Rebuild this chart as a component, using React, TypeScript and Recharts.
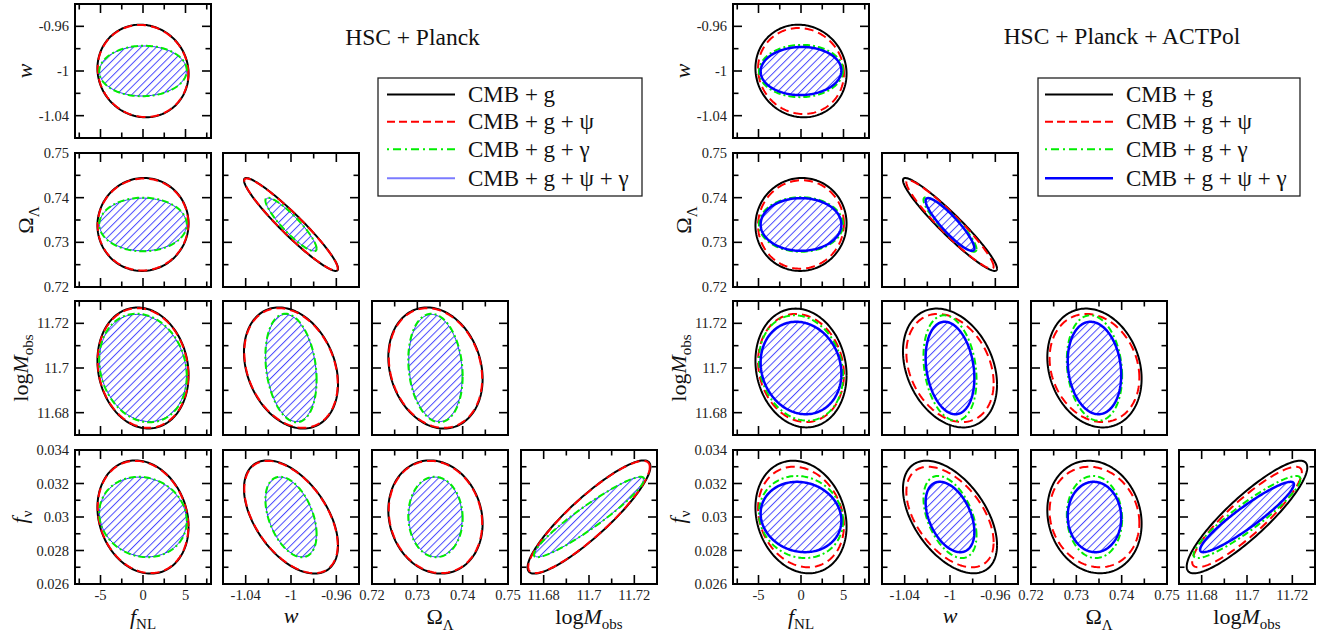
import React from 'react';
import { ScatterChart, Scatter, XAxis, YAxis, ReferenceArea } from 'recharts';

const FONT = '"Liberation Serif", "Times New Roman", serif';

// Parameters: [f_NL, w, Omega_Lambda, log M_obs, f_nu]
const FIDUCIAL = [0, -1, 0.734, 11.7, 0.03];
const AXIS_MIN = [-8, -1.06, 0.72, 11.67, 0.026];
const AXIS_MAX = [8, -0.94, 0.75, 11.73, 0.034];
const MAJOR_TICKS = [
  [-5, 0, 5],
  [-1.04, -1, -0.96],
  [0.72, 0.73, 0.74, 0.75],
  [11.68, 11.7, 11.72],
  [0.026, 0.028, 0.03, 0.032, 0.034],
];
const MINOR_TICKS = [
  [-7.5, -2.5, 2.5, 7.5],
  [-1.02, -0.98],
  [0.725, 0.735, 0.745],
  [11.69, 11.71],
  [0.027, 0.029, 0.031, 0.033],
];

// parameter pairs, order used by the correlation arrays
const PAIRS = [[0, 1], [0, 2], [1, 2], [0, 3], [1, 3], [2, 3], [0, 4], [1, 4], [2, 4], [3, 4]];

// HSC + Planck : marginal extents per parameter
const SIG_P_G = [5.36, 0.0415, 0.0104, 0.0271, 0.00338];
const SIG_P_G_PSI = [5.33, 0.0412, 0.0103, 0.0268, 0.00335];
const SIG_P_G_GAM = [5.15, 0.0226, 0.006, 0.0243, 0.0024];
const SIG_P_ALL = [5.12, 0.0224, 0.0059, 0.024, 0.00238];
// HSC + Planck : correlation per pair
const RHO_P_G = [-0.06, 0.02, -0.95, -0.12, -0.26, -0.18, -0.17, -0.5, -0.12, 0.89];
const RHO_P_G_PSI = [-0.06, 0.02, -0.95, -0.12, -0.26, -0.18, -0.17, -0.5, -0.12, 0.89];
const RHO_P_G_GAM = [0.02, 0.0, -0.9, -0.15, -0.22, -0.15, -0.1, -0.43, -0.03, 0.94];
const RHO_P_ALL = [0.02, 0.0, -0.9, -0.15, -0.22, -0.15, -0.1, -0.43, -0.03, 0.94];

// HSC + Planck + ACTPol
const SIG_A_G = [5.36, 0.0415, 0.0104, 0.0266, 0.00336];
const SIG_A_G_PSI = [5.05, 0.0385, 0.0099, 0.0242, 0.003];
const SIG_A_G_GAM = [4.95, 0.0234, 0.0061, 0.0236, 0.00245];
const SIG_A_ALL = [4.75, 0.0215, 0.0059, 0.0207, 0.0021];
const RHO_A_G = [-0.06, 0.02, -0.95, -0.12, -0.28, -0.18, -0.17, -0.5, -0.12, 0.88];
const RHO_A_G_PSI = [-0.06, 0.02, -0.95, -0.12, -0.28, -0.18, -0.17, -0.5, -0.12, 0.89];
const RHO_A_G_GAM = [0.02, 0.0, -0.9, -0.15, -0.22, -0.15, -0.1, -0.45, -0.05, 0.92];
const RHO_A_ALL = [0.02, 0.0, -0.9, -0.12, -0.22, -0.15, -0.1, -0.42, -0.03, 0.93];

const LEGEND_LABELS = ['CMB + g', 'CMB + g + \u03C8', 'CMB + g + \u03B3', 'CMB + g + \u03C8 + \u03B3'];
const TITLES = ['HSC + Planck', 'HSC + Planck + ACTPol'];

// layout
const COLS = [[75, 223, 372, 521], [733, 882, 1031, 1179]];
const ROWS = [4, 153, 301, 450];
const PW = 136;
const PH = 134;
const YTITLE_OFF = [0, 43, 42, 47, 48];
const XTITLE_OFF = [40, 39, 40, 40, 40];

const STY_G = { stroke: '#000000', width: 2, dash: undefined as string | undefined };
const STY_PSI = { stroke: '#ff0000', width: 2, dash: '9 5' };
const STY_GAM = { stroke: '#00ee00', width: 2, dash: '7 3 2 3' };
const STY_ALL_P = { stroke: '#2a2aff', width: 1, dash: undefined as string | undefined };
const STY_ALL_A = { stroke: '#0000ff', width: 2.5, dash: undefined as string | undefined };

const TRIANGLES = [
  {
    series: [
      { sig: SIG_P_G, rho: RHO_P_G, sty: STY_G },
      { sig: SIG_P_G_PSI, rho: RHO_P_G_PSI, sty: STY_PSI },
      { sig: SIG_P_ALL, rho: RHO_P_ALL, sty: STY_ALL_P },
      { sig: SIG_P_G_GAM, rho: RHO_P_G_GAM, sty: STY_GAM },
    ],
    hatch: { sig: SIG_P_ALL, rho: RHO_P_ALL },
    legendColor4: '#7b7bff',
    legendWidth4: 2,
  },
  {
    series: [
      { sig: SIG_A_G, rho: RHO_A_G, sty: STY_G },
      { sig: SIG_A_G_PSI, rho: RHO_A_G_PSI, sty: STY_PSI },
      { sig: SIG_A_G_GAM, rho: RHO_A_G_GAM, sty: STY_GAM },
      { sig: SIG_A_ALL, rho: RHO_A_ALL, sty: STY_ALL_A },
    ],
    hatch: { sig: SIG_A_ALL, rho: RHO_A_ALL },
    legendColor4: '#0000ff',
    legendWidth4: 2.5,
  },
];

const N_PTS = 160;

function ellipsePoints(i: number, j: number, sig: number[], rho: number) {
  const pts: { x: number; y: number }[] = [];
  const s = Math.sqrt(1 - rho * rho);
  for (let k = 0; k <= N_PTS; k++) {
    const t = (2 * Math.PI * k) / N_PTS;
    pts.push({
      x: FIDUCIAL[i] + sig[i] * Math.cos(t),
      y: FIDUCIAL[j] + sig[j] * (rho * Math.cos(t) + s * Math.sin(t)),
    });
  }
  return pts;
}

function fmt(v: number) {
  return String(parseFloat(v.toPrecision(6)));
}

const EmptyShape = () => <g />;

function XTick(props: any) {
  const { x, y, payload, param, show } = props;
  const v = payload.value;
  const major = MAJOR_TICKS[param].includes(v);
  const len = major ? 9 : 5.5;
  return (
    <g>
      <line x1={x} y1={y} x2={x} y2={y - len} stroke="#000" strokeWidth={1.6} />
      <line x1={x} y1={y - PH} x2={x} y2={y - PH + len} stroke="#000" strokeWidth={1.6} />
      {show && major ? (
        <text x={x} y={y + 16} textAnchor="middle" fontFamily={FONT} fontSize={14.5} fill="#222">
          {fmt(v)}
        </text>
      ) : null}
    </g>
  );
}

function YTick(props: any) {
  const { x, y, payload, param, show } = props;
  const v = payload.value;
  const major = MAJOR_TICKS[param].includes(v);
  const len = major ? 9 : 5.5;
  return (
    <g>
      <line x1={x} y1={y} x2={x + len} y2={y} stroke="#000" strokeWidth={1.6} />
      <line x1={x + PW} y1={y} x2={x + PW - len} y2={y} stroke="#000" strokeWidth={1.6} />
      {show && major ? (
        <text x={x - 6} y={y + 5} textAnchor="end" fontFamily={FONT} fontSize={14.5} fill="#222">
          {fmt(v)}
        </text>
      ) : null}
    </g>
  );
}

function titleContent(param: number) {
  const sub = { fontSize: 15 };
  switch (param) {
    case 0:
      return [
        <tspan key="a" fontStyle="italic">f</tspan>,
        <tspan key="b" {...sub} dy={5}>NL</tspan>,
      ];
    case 1:
      return [<tspan key="a" fontStyle="italic">w</tspan>];
    case 2:
      return [
        <tspan key="a">{'\u03A9'}</tspan>,
        <tspan key="b" {...sub} dy={6}>{'\u039B'}</tspan>,
      ];
    case 3:
      return [
        <tspan key="a">log</tspan>,
        <tspan key="b" fontStyle="italic">M</tspan>,
        <tspan key="c" {...sub} dy={5}>obs</tspan>,
      ];
    default:
      return [
        <tspan key="a" fontStyle="italic">f</tspan>,
        <tspan key="b" {...sub} dy={5}>{'\u03BD'}</tspan>,
      ];
  }
}

function Panel({ tri, row, col }: { tri: number; row: number; col: number }) {
  const px = col;
  const py = row + 1;
  const showX = row === 3;
  const showY = col === 0;
  // desired plot-area offsets inside the chart svg
  const P = { top: 12, right: 24, bottom: showX ? 53 : 12, left: showY ? 78 : 24 };
  // axes take 1px each (bottom x-axis, left y-axis)
  const margin = { top: P.top, right: P.right, bottom: P.bottom - 1, left: P.left - 1 };
  const W = PW + P.left + P.right;
  const H = PH + P.top + P.bottom;
  const pairIdx = PAIRS.findIndex((p) => p[0] === px && p[1] === py);
  const T = TRIANGLES[tri];
  const hatchData = ellipsePoints(px, py, T.hatch.sig, T.hatch.rho[pairIdx]);

  const xLabel = () => (
    <text
      x={P.left + PW / 2}
      y={P.top + PH + XTITLE_OFF[px]}
      textAnchor="middle"
      fontFamily={FONT}
      fontSize={22}
      fill="#111"
    >
      {titleContent(px)}
    </text>
  );
  const yLabel = () => {
    const lx = P.left - YTITLE_OFF[py];
    const ly = P.top + PH / 2;
    return (
      <text
        x={lx}
        y={ly}
        transform={`rotate(-90, ${lx}, ${ly})`}
        textAnchor="middle"
        fontFamily={FONT}
        fontSize={22}
        fill="#111"
      >
        {titleContent(py)}
      </text>
    );
  };

  return (
    <div style={{ position: 'absolute', left: COLS[tri][col] - P.left, top: ROWS[row] - P.top }}>
      <ScatterChart width={W} height={H} margin={margin}>
        <XAxis
          type="number"
          dataKey="x"
          domain={[AXIS_MIN[px], AXIS_MAX[px]]}
          allowDataOverflow
          ticks={[...MAJOR_TICKS[px], ...MINOR_TICKS[px]]}
          interval={0}
          tickLine={false}
          axisLine={false}
          tickSize={0}
          tickMargin={0}
          height={1}
          tick={(p: any) => <XTick {...p} param={px} show={showX} />}
          label={showX ? xLabel : undefined}
        />
        <YAxis
          type="number"
          dataKey="y"
          domain={[AXIS_MIN[py], AXIS_MAX[py]]}
          allowDataOverflow
          ticks={[...MAJOR_TICKS[py], ...MINOR_TICKS[py]]}
          interval={0}
          tickLine={false}
          axisLine={false}
          tickSize={0}
          tickMargin={0}
          width={1}
          tick={(p: any) => <YTick {...p} param={py} show={showY} />}
          label={showY ? yLabel : undefined}
        />
        <Scatter
          data={hatchData}
          shape={EmptyShape}
          isAnimationActive={false}
          line={{ fill: 'url(#hatch)', stroke: 'none' }}
        />
        {T.series.map((s, k) => (
          <Scatter
            key={k}
            data={ellipsePoints(px, py, s.sig, s.rho[pairIdx])}
            shape={EmptyShape}
            isAnimationActive={false}
            line={{
              fill: 'none',
              stroke: s.sty.stroke,
              strokeWidth: s.sty.width,
              strokeDasharray: s.sty.dash,
              strokeLinejoin: 'round',
            }}
          />
        ))}
        <ReferenceArea
          x1={AXIS_MIN[px]}
          x2={AXIS_MAX[px]}
          y1={AXIS_MIN[py]}
          y2={AXIS_MAX[py]}
          fill="none"
          fillOpacity={0}
          stroke="#000"
          strokeWidth={2}
          ifOverflow="visible"
        />
      </ScatterChart>
    </div>
  );
}

const LEGEND_BOX = [
  { x: 378, y: 78, w: 264, h: 118, lineX: 387, textX: 468 },
  { x: 1038, y: 78, w: 262, h: 118, lineX: 1045, textX: 1126 },
];
const LEGEND_ROWS_Y = [94.5, 121.7, 149.3, 178.3];

function LegendBlock({ tri }: { tri: number }) {
  const b = LEGEND_BOX[tri];
  const T = TRIANGLES[tri];
  const styles = [
    { c: '#000', w: 2, d: undefined as string | undefined },
    { c: '#ff0000', w: 2, d: '8 4' },
    { c: '#00ee00', w: 2, d: '2 4 8 4' },
    { c: T.legendColor4, w: T.legendWidth4, d: undefined as string | undefined },
  ];
  return (
    <g>
      <rect x={b.x} y={b.y} width={b.w} height={b.h} fill="#fff" stroke="#222" strokeWidth={1.3} />
      {LEGEND_LABELS.map((lab, i) => (
        <g key={i}>
          <line
            x1={b.lineX}
            x2={b.lineX + 68}
            y1={LEGEND_ROWS_Y[i]}
            y2={LEGEND_ROWS_Y[i]}
            stroke={styles[i].c}
            strokeWidth={styles[i].w}
            strokeDasharray={styles[i].d}
          />
          <text x={b.textX} y={LEGEND_ROWS_Y[i] + 7.5} fontFamily={FONT} fontSize={23} fill="#111">
            {lab}
          </text>
        </g>
      ))}
    </g>
  );
}

export default function App() {
  const panels: React.ReactNode[] = [];
  for (let tri = 0; tri < 2; tri++) {
    for (let row = 0; row < 4; row++) {
      for (let col = 0; col <= row; col++) {
        panels.push(<Panel key={`${tri}-${row}-${col}`} tri={tri} row={row} col={col} />);
      }
    }
  }
  return (
    <div
      style={{
        position: 'absolute',
        left: 0,
        top: 0,
        width: 1336,
        height: 637,
        background: '#fff',
        overflow: 'hidden',
      }}
    >
      {panels}
      <svg
        width={1336}
        height={637}
        style={{ position: 'absolute', left: 0, top: 0, pointerEvents: 'none' }}
      >
        <defs>
          <pattern
            id="hatch"
            patternUnits="userSpaceOnUse"
            width={8}
            height={5.4}
            patternTransform="rotate(-45)"
          >
            <rect x={0} y={0} width={8} height={1} fill="#4a4aff" />
          </pattern>
        </defs>
        <text x={412.5} y={45} textAnchor="middle" fontFamily={FONT} fontSize={23.5} fill="#111">
          {TITLES[0]}
        </text>
        <text x={1122} y={44} textAnchor="middle" fontFamily={FONT} fontSize={23.5} fill="#111">
          {TITLES[1]}
        </text>
        <LegendBlock tri={0} />
        <LegendBlock tri={1} />
      </svg>
    </div>
  );
}
